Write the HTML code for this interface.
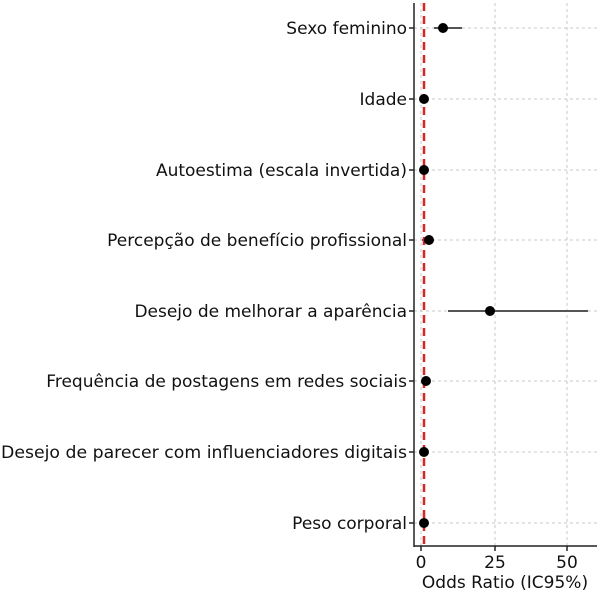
<!DOCTYPE html>
<html><head><meta charset="utf-8"><style>
html,body{margin:0;padding:0;background:#fff;}
svg{display:block;font-family:"DejaVu Sans","Liberation Sans",sans-serif;}
</style></head><body>
<svg width="600" height="593" viewBox="0 0 600 593" xmlns="http://www.w3.org/2000/svg">
<g stroke="#c8c8c8" stroke-width="1" stroke-dasharray="3,3">
<line x1="495" y1="3" x2="495" y2="546"/>
<line x1="567" y1="3" x2="567" y2="546"/>
<line x1="421" y1="3" x2="421" y2="546"/>
<line x1="414" y1="28" x2="597" y2="28"/>
<line x1="414" y1="99" x2="597" y2="99"/>
<line x1="414" y1="170" x2="597" y2="170"/>
<line x1="414" y1="240" x2="597" y2="240"/>
<line x1="414" y1="311" x2="597" y2="311"/>
<line x1="414" y1="381" x2="597" y2="381"/>
<line x1="414" y1="452" x2="597" y2="452"/>
<line x1="414" y1="523" x2="597" y2="523"/>
</g>
<g stroke="#555" stroke-width="2">
<line x1="434" y1="28" x2="462" y2="28"/>
<line x1="448" y1="311" x2="588" y2="311"/>
<line x1="422" y1="99" x2="426" y2="99"/>
<line x1="422" y1="240" x2="432" y2="240"/>
</g>
<line x1="424" y1="3" x2="424" y2="546" stroke="#d62728" stroke-width="2.5" stroke-dasharray="8,5"/>
<g fill="#000">
<circle cx="443" cy="28" r="5"/>
<circle cx="424" cy="99" r="5"/>
<circle cx="424" cy="170" r="5"/>
<circle cx="429" cy="240" r="5"/>
<circle cx="490" cy="311" r="5"/>
<circle cx="426" cy="381" r="5"/>
<circle cx="424" cy="452" r="5"/>
<circle cx="424" cy="523" r="5"/>
</g>
<g stroke="#222" stroke-width="1.5">
<line x1="414" y1="3" x2="414" y2="547"/>
<line x1="414" y1="546" x2="597" y2="546"/>
<line x1="421" y1="546" x2="421" y2="551"/>
<line x1="495" y1="546" x2="495" y2="551"/>
<line x1="567" y1="546" x2="567" y2="551"/>
<line x1="409" y1="28" x2="414" y2="28"/><line x1="409" y1="99" x2="414" y2="99"/>
<line x1="409" y1="170" x2="414" y2="170"/><line x1="409" y1="240" x2="414" y2="240"/>
<line x1="409" y1="311" x2="414" y2="311"/><line x1="409" y1="381" x2="414" y2="381"/>
<line x1="409" y1="452" x2="414" y2="452"/><line x1="409" y1="523" x2="414" y2="523"/>
</g>
<g font-size="17" fill="#111" text-anchor="end">
<text x="407" y="34" textLength="0">Sexo feminino</text>
<text x="407" y="105">Idade</text>
<text x="407" y="176">Autoestima (escala invertida)</text>
<text x="407" y="246">Percepção de benefício profissional</text>
<text x="407" y="317">Desejo de melhorar a aparência</text>
<text x="407" y="387">Frequência de postagens em redes sociais</text>
<text x="407" y="458" textLength="406" lengthAdjust="spacingAndGlyphs">Desejo de parecer com influenciadores digitais</text>
<text x="407" y="529">Peso corporal</text>
</g>
<g font-size="17" fill="#111" text-anchor="middle">
<text x="421" y="568">0</text>
<text x="495" y="568">25</text>
<text x="567" y="568">50</text>
<text x="505" y="588">Odds Ratio (IC95%)</text>
</g>
</svg>
</body></html>
